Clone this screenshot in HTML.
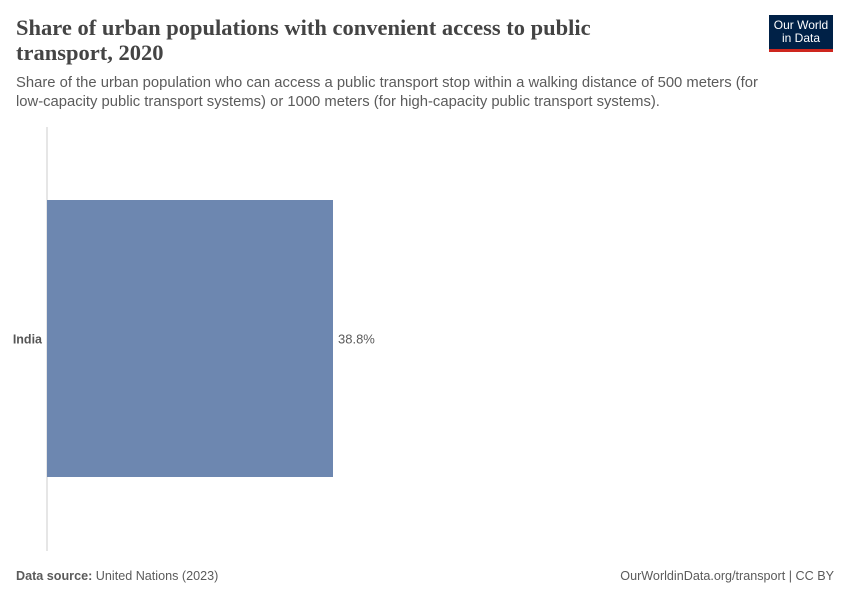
<!DOCTYPE html>
<html><head><meta charset="utf-8"><style>
body{margin:0;width:850px;height:600px;background:#fff;font-family:"Liberation Sans",sans-serif;position:relative;overflow:hidden}
.t{position:absolute;white-space:nowrap}
</style></head><body>
<div class="t" style="left:16px;top:15px;font-family:'Liberation Serif',serif;font-size:22.5px;font-weight:bold;line-height:25px;color:#444;">Share of urban populations with convenient access to public<br>transport, 2020</div>
<div style="position:absolute;left:769px;top:15px;width:64px;background:#002147;border-bottom:3px solid #ce261e;color:#fff;font-size:12px;line-height:13px;text-align:center;padding-top:4px;height:30px">Our World<br>in Data</div>
<div class="t" style="left:16px;top:74px;font-size:14.8px;line-height:19px;color:#5b5b5b;">Share of the urban population who can access a public transport stop within a walking distance of 500 meters (for<br>low-capacity public transport systems) or 1000 meters (for high-capacity public transport systems).</div>
<svg id="chart" width="850" height="600" style="position:absolute;left:0;top:0"></svg>
<div class="t" style="left:16px;top:569px;font-size:12.6px;color:#5b5b5b;"><b>Data source:</b> United Nations (2023)</div>
<div class="t" style="right:16px;top:569px;font-size:12.6px;color:#5b5b5b;">OurWorldinData.org/transport | CC BY</div>
<script>
const categories=["India"];
const values=[38.8];
const svg=document.getElementById('chart');
const NS='http://www.w3.org/2000/svg';
const x0=47, pxPerUnit=286/38.8;
const xs=v=>x0+v*pxPerUnit;
const top0=200, bandH=277;
const axis=document.createElementNS(NS,'line');


axis.setAttribute('x1',x0);axis.setAttribute('x2',x0);axis.setAttribute('y1',127);axis.setAttribute('y2',551);
axis.setAttribute('stroke','#ccc');svg.appendChild(axis);
categories.forEach((c,i)=>{
 const y=top0+i*bandH;
 const r=document.createElementNS(NS,'rect');
 
 
 r.setAttribute('x',x0);r.setAttribute('y',y);r.setAttribute('width',xs(values[i])-x0);r.setAttribute('height',bandH);
 r.setAttribute('fill','#6d87b0');svg.appendChild(r);
 const l=document.createElementNS(NS,'text');
 
 
 l.setAttribute('x',42);l.setAttribute('y',y+bandH/2+5);l.setAttribute('text-anchor','end');
 l.setAttribute('font-size','12.5');l.setAttribute('font-weight','bold');l.setAttribute('fill','#555');
 l.setAttribute('font-family','Liberation Sans, sans-serif');l.textContent=c;svg.appendChild(l);
 const v=document.createElementNS(NS,'text');
 
 
 v.setAttribute('x',xs(values[i])+5);v.setAttribute('y',y+bandH/2+5);
 v.setAttribute('font-size','13');v.setAttribute('fill','#5b5b5b');
 v.setAttribute('font-family','Liberation Sans, sans-serif');v.textContent=values[i].toFixed(1)+'%';svg.appendChild(v);
});
</script>
</body></html>
